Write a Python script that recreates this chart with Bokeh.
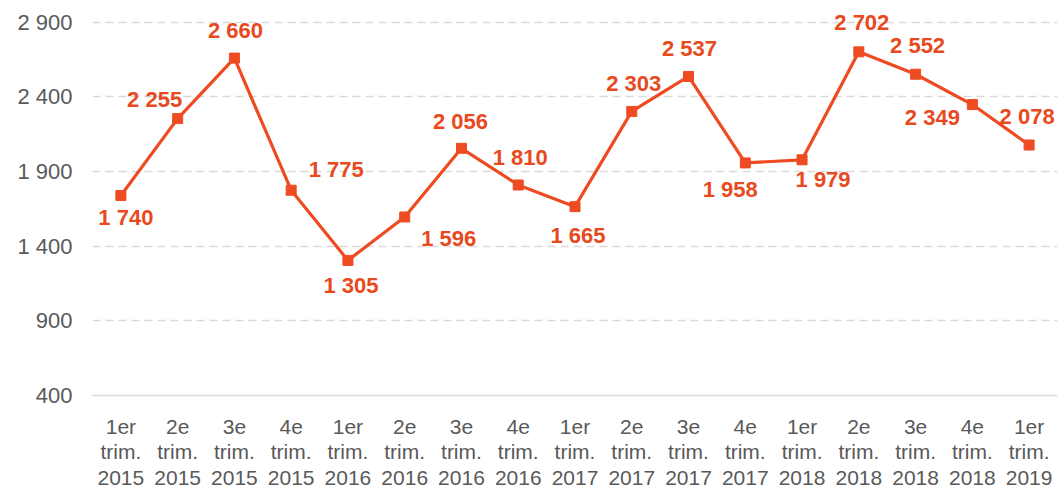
from bokeh.plotting import figure
from bokeh.models import ColumnDataSource, FactorRange, Range1d, FixedTicker, LabelSet, CustomJSTickFormatter
from bokeh.core.properties import value
from bokeh.embed import file_html
from bokeh.resources import INLINE

# ---- data ----
quarters = ["1er", "2e", "3e", "4e", "1er", "2e", "3e", "4e", "1er", "2e", "3e", "4e",
            "1er", "2e", "3e", "4e", "1er"]
years = ["2015", "2015", "2015", "2015", "2016", "2016", "2016", "2016", "2017", "2017",
         "2017", "2017", "2018", "2018", "2018", "2018", "2019"]
values = [1740, 2255, 2660, 1775, 1305, 1596, 2056, 1810, 1665, 2303, 2537, 1958,
          1979, 2702, 2552, 2349, 2078]
y_ticks = [400, 900, 1400, 1900, 2400, 2900]

categories = [f"{q}\ntrim.\n{y}" for q, y in zip(quarters, years)]
labels = [f"{v:,}".replace(",", " ") for v in values]

# label offsets (style only, in pixels)
dx = [5, -23, 1, 45, 3, 44, -1, 2, 3, 2, 1, -15, 21, 3, 2, -40, -2]
dy = [-22, 19, 28, 21, -25, -22, 27, 28, -29, 28, 28, -27, -20, 29, 29, -13, 29]

LINE = "#EE4B22"
TXT = "#E8491D"
FONT = "Liberation Sans"

src = ColumnDataSource(dict(x=categories, y=values, label=labels, dx=dx, dy=dy))

p = figure(width=1064, height=492, x_range=FactorRange(*categories, range_padding=0),
           y_range=Range1d(400, 3046), output_backend="svg", toolbar_location=None,
           min_border_left=92, min_border_right=7, min_border_top=0, min_border_bottom=94)
p.outline_line_color = None
p.background_fill_color = "white"
p.border_fill_color = "white"

p.line("x", "y", source=src, line_color=LINE, line_width=3.2)
p.scatter("x", "y", source=src, marker="square", size=10, fill_color=LINE, line_color=LINE)

lbl = LabelSet(x="x", y="y", text="label", source=src, x_offset="dx", y_offset="dy",
               text_align="center", text_baseline="middle", text_color=TXT,
               text_font=value(FONT), text_font_style="bold", text_font_size="22px")
p.add_layout(lbl)

p.yaxis.ticker = FixedTicker(ticks=y_ticks)
p.yaxis.formatter = CustomJSTickFormatter(code="return tick.toString().replace(/\\B(?=(\\d{3})+(?!\\d))/g, ' ');")
p.yaxis.axis_line_color = None
p.yaxis.major_tick_line_color = None
p.yaxis.minor_tick_line_color = None
p.yaxis.major_label_text_font = FONT
p.yaxis.major_label_text_font_size = "22px"
p.yaxis.major_label_text_color = "#595959"
p.yaxis.major_label_standoff = 14

p.xaxis.axis_line_color = "#D9D9D9"
p.xaxis.axis_line_width = 1.5
p.xaxis.major_tick_line_color = None
p.xaxis.minor_tick_line_color = None
p.xaxis.major_label_text_font = FONT
p.xaxis.major_label_text_font_size = "21px"
p.xaxis.major_label_text_color = "#595959"
p.xaxis.major_label_text_line_height = 1.12
p.xaxis.major_label_standoff = 13
p.xaxis.major_label_orientation = "horizontal"

p.xgrid.grid_line_color = None
p.ygrid.grid_line_color = "#D9D9D9"
p.ygrid.grid_line_width = 1.5
p.ygrid.grid_line_dash = "8 5"
p.ygrid.ticker = FixedTicker(ticks=[900, 1400, 1900, 2400, 2900])

open("out.html", "w").write(file_html(p, INLINE))
